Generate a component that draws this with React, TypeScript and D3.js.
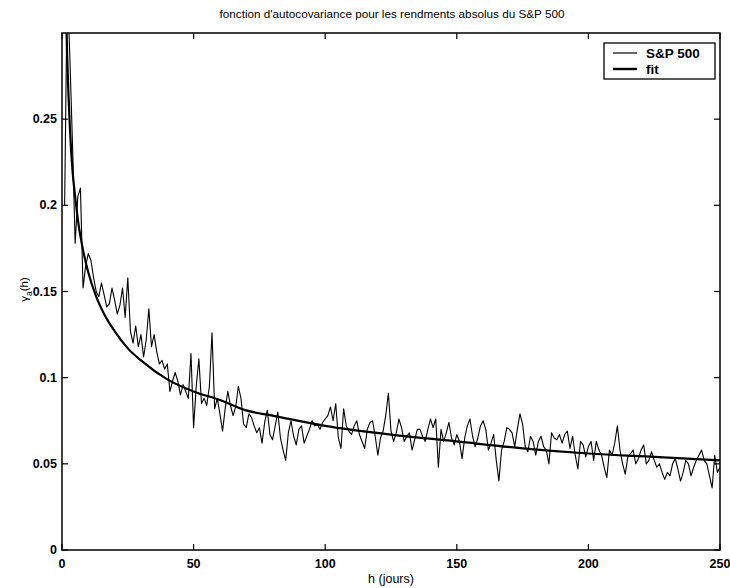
import React from "react";
import * as d3 from "d3";

const W = 730;
const H = 588;
const plotLeft = 62;
const plotRight = 720;
const plotTop = 33;
const plotBottom = 550;

const titleText = "fonction d'autocovariance pour les rendments absolus du S&P 500";
const xLabel = "h (jours)";
const xTicks = [0, 50, 100, 150, 200, 250];
const yTicks = [0, 0.05, 0.1, 0.15, 0.2, 0.25];
const seriesNames = ["S&P 500", "fit"];

// S&P 500 autocovariance of absolute returns, lags h = 1..250
const spValues = [
  0.2, 0.33, 0.285, 0.235, 0.178, 0.205, 0.21, 0.152, 0.165, 0.172,
  0.168, 0.158, 0.15, 0.147, 0.155, 0.148, 0.141, 0.143, 0.152, 0.145,
  0.137, 0.142, 0.152, 0.135, 0.158, 0.127, 0.12, 0.13, 0.118, 0.125,
  0.112, 0.122, 0.14, 0.118, 0.125, 0.115, 0.108, 0.11, 0.105, 0.108,
  0.092, 0.098, 0.103, 0.098, 0.09, 0.096, 0.092, 0.088, 0.114, 0.071,
  0.095, 0.111, 0.085, 0.088, 0.084, 0.095, 0.126, 0.082, 0.088, 0.079,
  0.069, 0.082, 0.092, 0.084, 0.078, 0.083, 0.095, 0.088, 0.073, 0.071,
  0.079, 0.077, 0.072, 0.068, 0.071, 0.062, 0.074, 0.081, 0.067, 0.064,
  0.072, 0.08, 0.065, 0.058, 0.052, 0.068, 0.075, 0.066, 0.061, 0.07,
  0.072, 0.062, 0.066, 0.07, 0.075, 0.072, 0.073, 0.07, 0.074, 0.076,
  0.078, 0.083, 0.075, 0.085, 0.065, 0.059, 0.082, 0.072, 0.069, 0.067,
  0.072, 0.075, 0.067, 0.063, 0.059, 0.07, 0.074, 0.075, 0.066, 0.055,
  0.065, 0.069, 0.078, 0.091, 0.069, 0.063, 0.068, 0.076, 0.071, 0.063,
  0.066, 0.068, 0.058, 0.064, 0.07, 0.07, 0.066, 0.063, 0.07, 0.076,
  0.071, 0.076, 0.048, 0.07, 0.063, 0.068, 0.074, 0.065, 0.061, 0.067,
  0.063, 0.053, 0.065, 0.072, 0.076, 0.066, 0.06, 0.065, 0.072, 0.075,
  0.07, 0.058, 0.062, 0.067, 0.052, 0.04, 0.058, 0.063, 0.071, 0.07,
  0.068, 0.06, 0.07, 0.079, 0.073, 0.06, 0.057, 0.066, 0.063, 0.055,
  0.063, 0.066, 0.06, 0.058, 0.05, 0.068, 0.065, 0.064, 0.067, 0.062,
  0.067, 0.069, 0.059, 0.066, 0.055, 0.047, 0.063, 0.061, 0.054, 0.06,
  0.063, 0.052, 0.063, 0.058, 0.055, 0.048, 0.042, 0.058, 0.055, 0.062,
  0.072, 0.058, 0.05, 0.044, 0.054, 0.056, 0.058, 0.05, 0.053, 0.058,
  0.061, 0.05, 0.052, 0.057, 0.052, 0.048, 0.05, 0.045, 0.041, 0.045,
  0.043, 0.05, 0.053, 0.047, 0.04, 0.045, 0.052, 0.05, 0.043, 0.048,
  0.052, 0.055, 0.058, 0.052, 0.05, 0.043, 0.036, 0.055, 0.045, 0.048,
];

// fitted curve, read at selected lags
const fitLags = [1, 1.5, 2, 3, 4, 5, 6, 8, 10, 13, 16, 20, 25, 30, 40, 50, 60, 70, 80, 100, 125, 150, 175, 200, 225, 250];
const fitValues = [0.36, 0.315, 0.285, 0.245, 0.22, 0.205, 0.192, 0.174, 0.161, 0.147, 0.137, 0.127, 0.117, 0.11, 0.099, 0.092, 0.087, 0.081, 0.078, 0.072, 0.067, 0.063, 0.059, 0.056, 0.054, 0.052];

const FONT = "'Liberation Sans', Arial, Helvetica, sans-serif";

export default function App() {
  const x = d3.scaleLinear().domain([0, 250]).range([plotLeft, plotRight]);
  const y = d3.scaleLinear().domain([0, 0.3]).range([plotBottom, plotTop]);
  const fmt = d3.format("~g");

  const spPoints: [number, number][] = spValues.map((v, i) => [i + 1, v]);
  const fitPoints: [number, number][] = fitLags.map((h, i) => [h, fitValues[i]]);

  const spLine = d3
    .line<[number, number]>()
    .x((d) => x(d[0]))
    .y((d) => y(d[1]));
  const fitLine = d3
    .line<[number, number]>()
    .x((d) => x(d[0]))
    .y((d) => y(d[1]))
    .curve(d3.curveMonotoneX);

  const tick = 6;
  const legX = 604;
  const legY = 43;
  const legW = 111;
  const legH = 36;

  return (
    <svg
      width={W}
      height={H}
      style={{ position: "absolute", left: 0, top: 0, background: "#fff" }}
      fontFamily={FONT}
    >
      <rect x={0} y={0} width={W} height={H} fill="#fff" />
      <defs>
        <clipPath id="plotClip">
          <rect x={plotLeft} y={plotTop} width={plotRight - plotLeft} height={plotBottom - plotTop} />
        </clipPath>
      </defs>

      <text
        x={392}
        y={18}
        textAnchor="middle"
        fontSize={10.5}
        fill="#000"
        textLength={345}
        lengthAdjust="spacingAndGlyphs"
      >
        {titleText}
      </text>

      <g clipPath="url(#plotClip)">
        <path d={spLine(spPoints) || ""} fill="none" stroke="#000" strokeWidth={1.1} strokeLinejoin="round" />
        <path d={fitLine(fitPoints) || ""} fill="none" stroke="#000" strokeWidth={2.2} />
      </g>

      <rect
        x={plotLeft}
        y={plotTop}
        width={plotRight - plotLeft}
        height={plotBottom - plotTop}
        fill="none"
        stroke="#000"
        strokeWidth={1.5}
      />

      {xTicks.map((t) => (
        <g key={"x" + t}>
          <line x1={x(t)} x2={x(t)} y1={plotBottom} y2={plotBottom - tick} stroke="#000" strokeWidth={1.2} />
          <line x1={x(t)} x2={x(t)} y1={plotTop} y2={plotTop + tick} stroke="#000" strokeWidth={1.2} />
          <text x={x(t)} y={plotBottom + 18} textAnchor="middle" fontSize={12.5} fontWeight="bold" fill="#000">
            {fmt(t)}
          </text>
        </g>
      ))}

      {yTicks.map((t) => (
        <g key={"y" + t}>
          <line x1={plotLeft} x2={plotLeft + tick} y1={y(t)} y2={y(t)} stroke="#000" strokeWidth={1.2} />
          <line x1={plotRight} x2={plotRight - tick} y1={y(t)} y2={y(t)} stroke="#000" strokeWidth={1.2} />
          <text x={plotLeft - 5} y={y(t) + 4} textAnchor="end" fontSize={12.5} fontWeight="bold" fill="#000">
            {fmt(t)}
          </text>
        </g>
      ))}

      <text x={(plotLeft + plotRight) / 2} y={583} textAnchor="middle" fontSize={12.5} fill="#000">
        {xLabel}
      </text>

      <text transform={`translate(28, ${y(0.15) - 2}) rotate(-90)`} textAnchor="middle" fontSize={11.5} fill="#000">
        <tspan>γ</tspan>
        <tspan fontSize={8.5} dy={3.5}>a</tspan>
        <tspan dy={-3.5}>(h)</tspan>
      </text>

      <g>
        <rect x={legX} y={legY} width={legW} height={legH} fill="#fff" stroke="#000" strokeWidth={1.3} />
        {seriesNames.map((name, i) => {
          const ly = legY + 10 + i * 16;
          return (
            <g key={name}>
              <line x1={legX + 9} x2={legX + 33} y1={ly} y2={ly} stroke="#000" strokeWidth={i === 0 ? 1.2 : 2.4} />
              <text x={legX + 42} y={ly + 5} fontSize={13.5} fontWeight="bold" fill="#000">
                {name}
              </text>
            </g>
          );
        })}
      </g>
    </svg>
  );
}
